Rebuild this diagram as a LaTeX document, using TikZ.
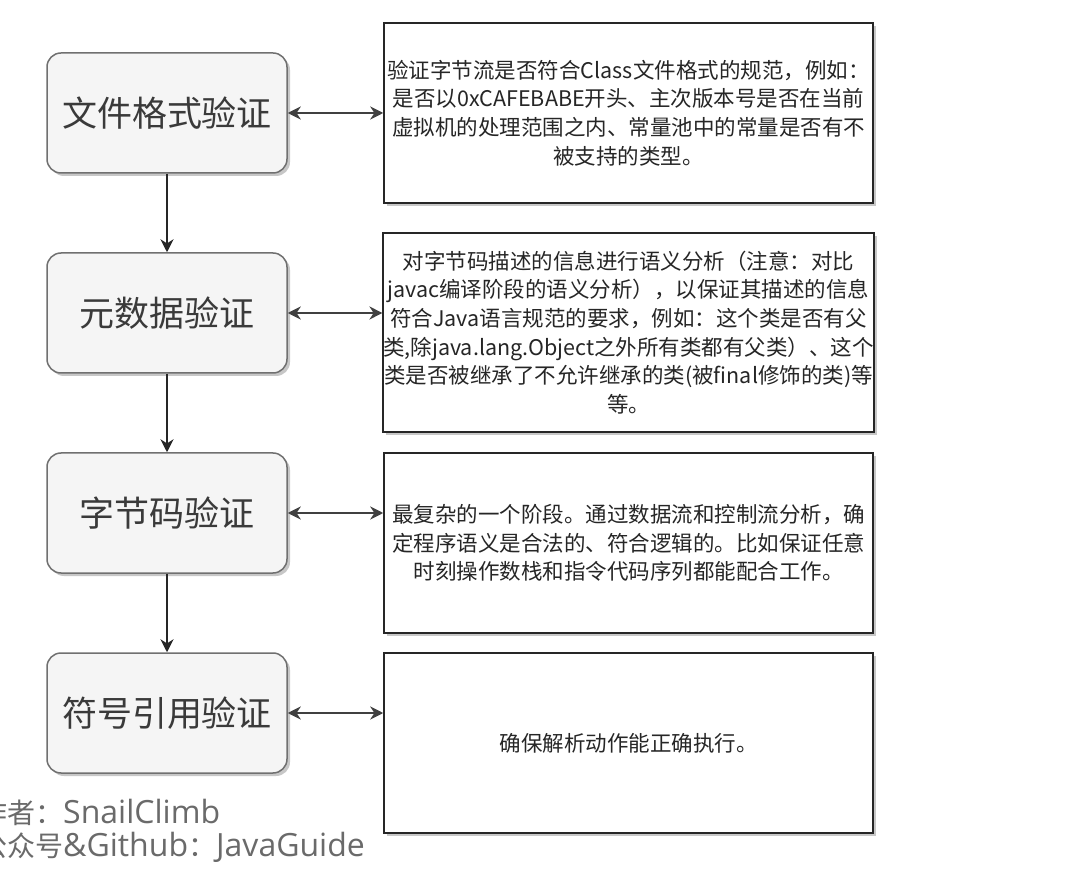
\documentclass[tikz,border=0pt]{standalone}
\usepackage{fontspec}
\setmainfont{Noto Sans CJK SC}
\newfontfamily\latinfoot{Open Sans}
\usetikzlibrary{shadows,arrows.meta}
\definecolor{boxfill}{HTML}{F5F5F5}
\definecolor{boxline}{HTML}{707070}
\definecolor{txtdark}{HTML}{3A3A3A}
\definecolor{footgray}{HTML}{6A6A6A}
\tikzset{
  stagebox/.style={draw=boxline, line width=1.5pt, fill=boxfill, rounded corners=14pt,
    minimum width=240pt, minimum height=120pt, inner sep=0pt, text=txtdark,
    font=\fontsize{35}{40}\selectfont,
    drop shadow={shadow xshift=3pt, shadow yshift=-3pt, fill=black, opacity=0.22}},
  descbox/.style={draw=black!85, line width=1.5pt, fill=white,
    minimum width=489pt, minimum height=180pt, inner sep=0pt, align=center, text=black!85,
    font=\fontsize{21.5}{28.6}\selectfont,
    drop shadow={shadow xshift=3pt, shadow yshift=-3pt, fill=black, opacity=0.22}},
  flowarrow/.style={-{Stealth[length=13pt,width=13pt]}, line width=1.8pt, draw=black!85},
  linkarrow/.style={{Stealth[length=13pt,width=13pt]}-{Stealth[length=13pt,width=13pt]}, line width=2.2pt, draw=black!75},
  foot/.style={font=\fontsize{28}{33}\selectfont, text=footgray, align=left, inner sep=0pt}
}
\begin{document}
\begin{tikzpicture}[x=1pt,y=-1pt]
\useasboundingbox (0,0) rectangle (1066,874);
\fill[white] (0,0) rectangle (1066,874);

\node[stagebox] (L1) at (167,113) {文件格式验证};
\node[stagebox] (L2) at (167,313) {元数据验证};
\node[stagebox] (L3) at (167,513) {字节码验证};
\node[stagebox] (L4) at (167,713) {符号引用验证};

\node[descbox] (R1) at (628.5,113) {验证字节流是否符合Class文件格式的规范，例如：\\是否以0xCAFEBABE开头、主次版本号是否在当前\\虚拟机的处理范围之内、常量池中的常量是否有不\\被支持的类型。};
\node[descbox, minimum height=199pt] (R2) at (628.5,332.5) {对字节码描述的信息进行语义分析（注意：对比\\javac编译阶段的语义分析），以保证其描述的信息\\符合Java语言规范的要求，例如：这个类是否有父\\类,除java.lang.Object之外所有类都有父类）、这个\\类是否被继承了不允许继承的类(被final修饰的类)等\\等。};
\node[descbox] (R3) at (628.5,543) {最复杂的一个阶段。通过数据流和控制流分析，确\\定程序语义是合法的、符合逻辑的。比如保证任意\\时刻操作数栈和指令代码序列都能配合工作。};
\node[descbox] (R4) at (628.5,743) {确保解析动作能正确执行。};

\draw[flowarrow] (L1.south) -- (L2.north);
\draw[flowarrow] (L2.south) -- (L3.north);
\draw[flowarrow] (L3.south) -- (L4.north);

\draw[linkarrow] (L1.east) -- (L1.east -| R1.west);
\draw[linkarrow] (L2.east) -- (L2.east -| R2.west);
\draw[linkarrow] (L3.east) -- (L3.east -| R3.west);
\draw[linkarrow] (L4.east) -- (L4.east -| R4.west);

\node[foot, anchor=north west] (F) at (-21,799) {作者：{\latinfoot\fontsize{32}{33}\selectfont SnailClimb}\\公众号{\latinfoot\fontsize{32}{33}\selectfont \&Github}：{\latinfoot\fontsize{32}{33}\selectfont JavaGuide}};
\end{tikzpicture}
\end{document}
